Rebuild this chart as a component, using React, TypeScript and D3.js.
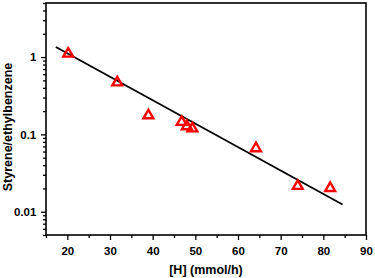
import React, {useEffect, useRef} from 'react';
import * as d3 from 'd3';

// measured points
const hRates = [20.2, 31.7, 39.0, 46.8, 48.0, 49.3, 64.2, 74.0, 81.6];
const ratios = [1.13, 0.48, 0.18, 0.148, 0.13, 0.122, 0.0675, 0.022, 0.0207];

// fitted line endpoints
const fitX = [17.3, 84.5];
const fitY = [1.35, 0.0124];

const xTicks = [20, 30, 40, 50, 60, 70, 80, 90];
const xMinorTicks = [15, 25, 35, 45, 55, 65, 75, 85];
const yTicks = [1, 0.1, 0.01];
const yTickLabels = ['1', '0.1', '0.01'];

const App = () => {
    const svgRef = useRef(null);

    useEffect(() => {
        const svg = d3.select(svgRef.current);
        svg.selectAll('*').remove();

        const width = 375;
        const height = 278;
        const margin = {top: 3, right: 9, bottom: 43, left: 46};
        const font = '"Liberation Sans", Arial, sans-serif';

        const x = d3.scaleLinear().domain([15, 90]).range([margin.left, width - margin.right]);
        const y = d3.scaleLog().domain([0.005, 5]).range([height - margin.bottom, margin.top]);

        // frame
        svg.append('rect')
            .attr('x', margin.left)
            .attr('y', margin.top)
            .attr('width', width - margin.left - margin.right)
            .attr('height', height - margin.top - margin.bottom)
            .attr('fill', 'none')
            .attr('stroke', '#000')
            .attr('stroke-width', 1.6);

        // x axis
        const xAxis = svg.append('g').attr('transform', `translate(0,${height - margin.bottom})`);
        xAxis.call(d3.axisBottom(x).tickValues(xTicks).tickSize(5).tickFormat(d3.format('d')));
        const xMinor = svg.append('g').attr('transform', `translate(0,${height - margin.bottom})`);
        xMinor.call(d3.axisBottom(x).tickValues(xMinorTicks).tickSize(3).tickFormat(() => ''));

        // y axis
        const yAxis = svg.append('g').attr('transform', `translate(${margin.left},0)`);
        yAxis.call(d3.axisLeft(y).tickValues(yTicks).tickSize(5).tickFormat((d, i) => yTickLabels[i]));
        const minor = [];
        [0.001, 0.01, 0.1, 1].forEach((dec) => {
            for (let k = 2; k <= 9; k++) {
                const v = dec * k;
                if (v >= 0.005 && v <= 5) minor.push(v);
            }
        });
        const yMinor = svg.append('g').attr('transform', `translate(${margin.left},0)`);
        yMinor.call(d3.axisLeft(y).tickValues(minor).tickSize(3).tickFormat(() => ''));

        [xAxis, xMinor, yAxis, yMinor].forEach((g) => {
            g.select('.domain').remove();
            g.selectAll('line').attr('stroke', '#000').attr('stroke-width', 1.3);
            g.selectAll('text')
                .attr('fill', '#000')
                .attr('font-family', font)
                .attr('font-weight', 'bold')
                .attr('font-size', 11.5);
        });
        xAxis.selectAll('text').attr('dy', '1.05em');
        yAxis.selectAll('text').attr('dx', '-0.15em');

        // fit line
        svg.append('path')
            .datum(fitX.map((v, i) => [v, fitY[i]]))
            .attr('d', d3.line().x((d) => x(d[0])).y((d) => y(d[1])))
            .attr('fill', 'none')
            .attr('stroke', '#000')
            .attr('stroke-width', 1.8);

        // triangles
        const tri = d3.symbol().type(d3.symbolTriangle).size(42);
        svg.append('g')
            .selectAll('path')
            .data(hRates)
            .join('path')
            .attr('d', tri)
            .attr('transform', (d, i) => `translate(${x(d)},${y(ratios[i]) + 0.8})`)
            .attr('fill', 'none')
            .attr('stroke', '#ff0000')
            .attr('stroke-width', 2.4);

        // axis titles
        svg.append('text')
            .attr('x', (margin.left + width - margin.right) / 2)
            .attr('y', 274)
            .attr('text-anchor', 'middle')
            .attr('font-family', font)
            .attr('font-weight', 'bold')
            .attr('font-size', 12.5)
            .text('[H] (mmol/h)');

        svg.append('text')
            .attr('transform', `translate(12,${(margin.top + height - margin.bottom) / 2 + 8}) rotate(-90)`)
            .attr('text-anchor', 'middle')
            .attr('font-family', font)
            .attr('font-weight', 'bold')
            .attr('font-size', 12.5)
            .text('Styrene/ethylbenzene');
    }, []);

    return (
        <svg ref={svgRef} width={375} height={278} style={{position: 'absolute', left: 0, top: 0, background: '#fff'}} />
    );
};

export default App;
